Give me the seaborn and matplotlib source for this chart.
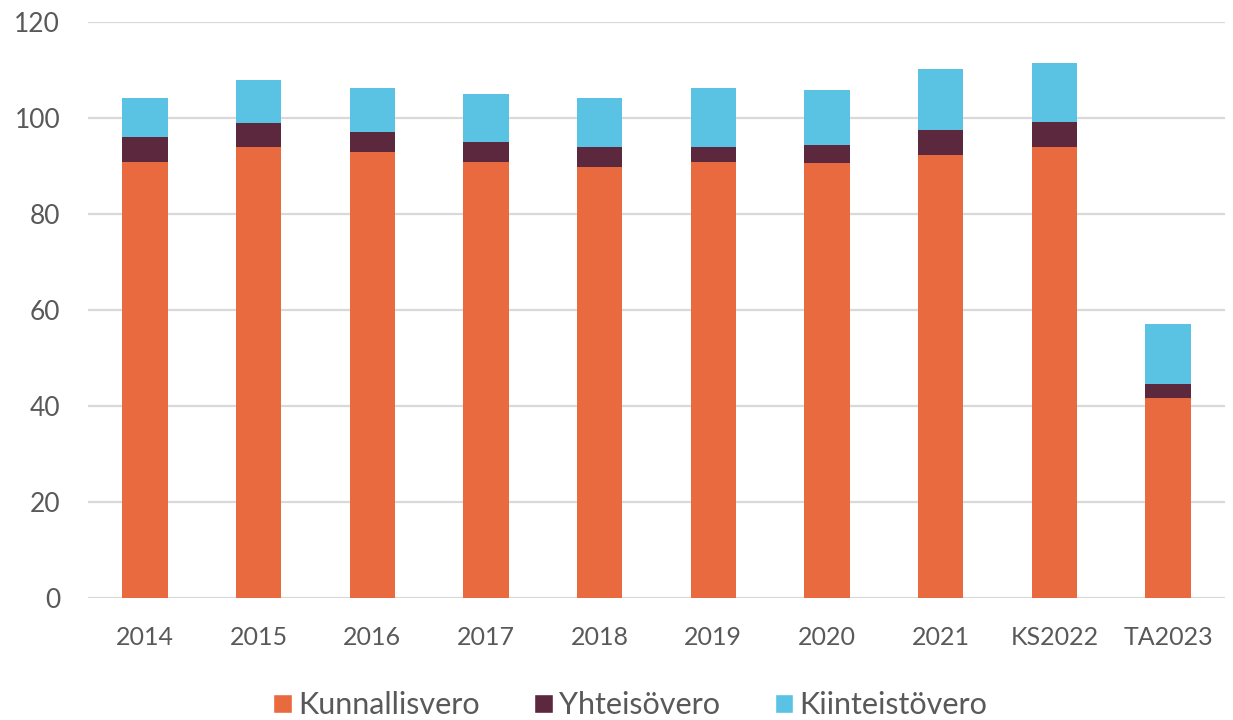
import seaborn as sns
import matplotlib.pyplot as plt
import numpy as np
import pandas as pd
from matplotlib.patches import Patch

years = ['2014', '2015', '2016', '2017', '2018', '2019', '2020', '2021', 'KS2022', 'TA2023']
kunnallisvero = [90.9, 94.0, 93.0, 90.9, 89.9, 90.9, 90.6, 92.3, 94.0, 41.6]
yhteisovero = [5.2, 4.9, 4.1, 4.2, 4.1, 3.1, 3.8, 5.2, 5.2, 3.0]
kiinteistovero = [8.0, 9.0, 9.1, 10.0, 10.1, 12.2, 11.4, 12.8, 12.2, 12.5]

series = ['Kunnallisvero', 'Yhteisövero', 'Kiinteistövero']
colors = ['#EA6A3F', '#5C283D', '#5AC2E3']
text_color = '#595959'

df = pd.DataFrame({
    'Vuosi': years,
    'Kunnallisvero': kunnallisvero,
    'Yhteisövero': yhteisovero,
    'Kiinteistövero': kiinteistovero,
})
# cumulative tops for stacking
stack = df[series].cumsum(axis=1)
stack['Vuosi'] = df['Vuosi']

sns.set_style('white')
plt.rcParams['font.family'] = ['Lato', 'DejaVu Sans']

fig = plt.figure(figsize=(12.33, 7.2), dpi=100)
ax = fig.add_axes([0.0714, 0.1694, 0.922, 0.80])

# draw tallest layer first so lower segments sit on top
for name, color in reversed(list(zip(series, colors))):
    sns.barplot(data=stack, x='Vuosi', y=name, color=color, width=0.4,
                saturation=1, linewidth=0, ax=ax, zorder=3)

ax.set_ylim(0, 120)
ax.set_yticks(range(0, 121, 20))
ax.set_xlim(-0.5, len(years) - 0.5)
ax.set_xlabel('')
ax.set_ylabel('')
ax.yaxis.grid(True, color='#D9D9D9', linewidth=1.6, zorder=0)
ax.set_axisbelow(True)
for s in ax.spines.values():
    s.set_visible(False)
ax.tick_params(axis='y', length=0, pad=20, labelsize=19, labelcolor=text_color)
ax.tick_params(axis='x', length=0, pad=20, labelsize=18, labelcolor=text_color)

handles = [Patch(facecolor=c, label=n) for n, c in zip(series, colors)]
ax.legend(handles=handles, loc='center', bbox_to_anchor=(0.477, -0.186),
          ncol=3, frameon=False, fontsize=22, handlelength=0.6,
          handleheight=0.6, handletextpad=0.2, columnspacing=1.8,
          labelcolor=text_color)

plt.savefig('out.png', dpi=100)
